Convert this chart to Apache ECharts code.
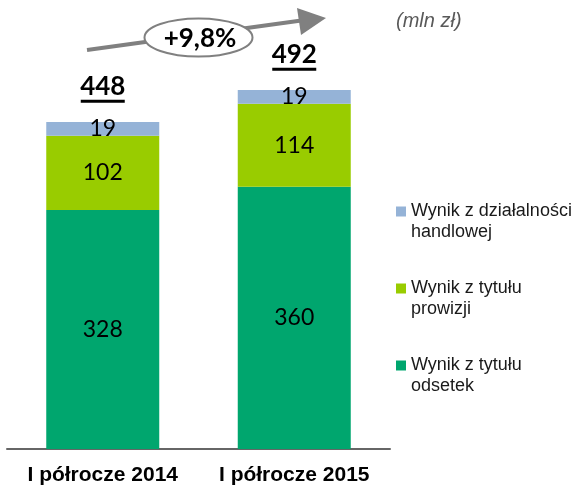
<!DOCTYPE html>
<html>
<head>
<meta charset="utf-8">
<script src="https://cdn.jsdelivr.net/npm/echarts@6/dist/echarts.min.js"></script>
<style>html,body{margin:0;padding:0;background:#fff}#c{width:581px;height:486px}</style>
</head>
<body>
<div id="c"></div>
<script>
const categories = ['I półrocze 2014', 'I półrocze 2015'];
const seriesNames = ['Wynik z tytułu odsetek', 'Wynik z tytułu prowizji', 'Wynik z działalności handlowej'];
const legendLabels = ['Wynik z działalności\nhandlowej', 'Wynik z tytułu\nprowizji', 'Wynik z tytułu\nodsetek'];
const odsetek = [328, 360];
const prowizji = [102, 114];
const handlowej = [19, 19];
const totals = [448, 492];
const unitLabel = '(mln zł)';

const colors = ['#00A66E', '#99CC00', '#95B3D7'];
const values = [odsetek, prowizji, handlowej];
const change = (totals[1] / totals[0] - 1) * 100;
const changeText = '+' + change.toFixed(1).replace('.', ',') + '%';

const chart = echarts.init(document.getElementById('c'), null, {renderer: 'canvas'});
const legendMap = {};
seriesNames.forEach((n, i) => { legendMap[n] = ' \n' + legendLabels[2 - i]; });

const series = seriesNames.map((name, i) => ({
  name: name,
  type: 'bar',
  stack: 'total',
  barWidth: 113,
  data: values[i],
  itemStyle: {color: colors[i]},
  label: {
    show: true,
    position: 'inside',
    color: '#000',
    fontFamily: 'Lato',
    fontSize: 23
  },
  emphasis: {disabled: true}
}));
series.push({
  name: 'total',
  type: 'bar',
  barWidth: 113,
  barGap: '-100%',
  data: totals,
  itemStyle: {color: 'rgba(0,0,0,0)'},
  z: 0,
  label: {
    show: true,
    position: 'top',
    distance: 20,
    formatter: (p) => '{v|' + p.value + '}\n{u|}',
    rich: {
      v: {fontFamily: 'Lato', fontWeight: 'bold', fontSize: 26, color: '#000', lineHeight: 26, align: 'center'},
      u: {width: 44, height: 3, lineHeight: 3, backgroundColor: '#000', align: 'center'}
    }
  },
  emphasis: {disabled: true}
});

chart.setOption({
  animation: false,
  grid: {left: 7, right: 191, top: 12, bottom: 36},
  xAxis: {
    type: 'category',
    data: categories,
    axisLine: {show: true, lineStyle: {color: '#666', width: 2}},
    axisTick: {show: false},
    axisLabel: {interval: 0, hideOverlap: false, color: '#000', fontFamily: 'Liberation Sans', fontWeight: 'bold', fontSize: 21, margin: 16}
  },
  yAxis: {type: 'value', min: 0, max: 600, show: false, splitLine: {show: false}},
  legend: {
    orient: 'vertical',
    left: 391,
    top: 175,
    itemWidth: 10,
    itemHeight: 10,
    itemGap: 14,
    icon: 'rect',
    selectedMode: false,
    data: [seriesNames[2], seriesNames[1], seriesNames[0]],
    formatter: (n) => legendMap[n],
    textStyle: {fontFamily: 'Liberation Sans', fontSize: 18, color: '#1a1a1a', lineHeight: 21}
  },
  series: series,
  graphic: [
    {type: 'line', shape: {x1: 87, y1: 50, x2: 305, y2: 20}, style: {stroke: '#808080', lineWidth: 4}},
    {type: 'polygon', shape: {points: [[297, 8], [301, 35], [326, 18]]}, style: {fill: '#808080'}},
    {type: 'ellipse', shape: {cx: 198.5, cy: 37.5, rx: 54, ry: 19}, style: {fill: '#fff', stroke: '#808080', lineWidth: 2}},
    {type: 'text', x: 200, y: 38.5, style: {text: changeText, fontFamily: 'Lato', fontWeight: 'bold', fontSize: 26, fill: '#000', align: 'center', verticalAlign: 'middle'}},
    {type: 'text', x: 396, y: 21, style: {text: unitLabel, fontFamily: 'Liberation Sans', fontStyle: 'italic', fontSize: 20, fill: '#595959', align: 'left', verticalAlign: 'middle'}}
  ]
});
</script>
</body>
</html>
